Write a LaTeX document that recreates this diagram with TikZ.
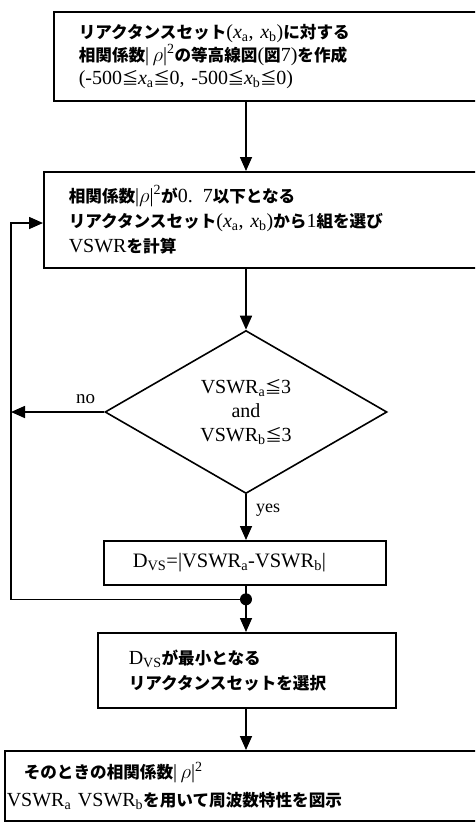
\documentclass[tikz,border=0pt]{standalone}
\usepackage{fontspec}
\usepackage{graphicx}
\setmainfont{Liberation Serif}
\newfontfamily\jpfont{Noto Sans CJK JP}[Scale=0.83]
\usetikzlibrary{arrows.meta, shapes.geometric, calc, positioning}
\newcommand{\ja}[1]{{\jpfont\bfseries #1}}
\newcommand{\lo}[1]{\textsubscript{#1}}
\newcommand{\leqj}{\makebox[0.8em]{\jpfont ≦}}
\newcommand{\fs}[2]{\fontsize{#1}{#2}\selectfont}

\begin{document}
\begin{tikzpicture}[x=1pt, y=-1pt,
		box/.style={draw, line width=1.6pt, shape=rectangle, anchor=north west, align=left, inner ysep=0pt},
		flow/.style={line width=1.6pt, -{Triangle[length=14pt, width=12pt]}},
		cond/.style={draw, line width=1.6pt, shape=diamond, minimum width=282pt, minimum height=163pt, align=center, inner sep=0pt}]
			\useasboundingbox (0,0) rectangle (475,823);
			\clip (0,0) rectangle (475,823);
			
			\node[box, font=\fs{20}{23}, inner xsep=25pt, text width=390pt, minimum height=89pt] (Zone) at (53,11) {\ja{リアクタンスセット}(\textit{x}\lo{a}, \textit{x}\lo{b})\ja{に対する}\\ \ja{相関係数}|\,$\rho$|\textsuperscript{2}\ja{の等高線図}(\ja{図}7)\ja{を作成}\\ (-500\leqj\textit{x}\lo{a}\leqj0, -500\leqj\textit{x}\lo{b}\leqj0)};
			
			\node[box, font=\fs{20}{25}, inner xsep=25pt, text width=400pt, minimum height=96pt] (Sel) at (43,171) {\ja{相関係数}|$\rho$|\textsuperscript{2}\ja{が}0. 7\ja{以下となる}\\ \ja{リアクタンスセット}(\textit{x}\lo{a}, \textit{x}\lo{b})\ja{から}1\ja{組を選び}\\ VSWR\ja{を計算}};
			
			\node[cond, font=\fs{20}{24}] (Chk) at (246,412) {VSWR\lo{a}\leqj3\\ and\\ VSWR\lo{b}\leqj3};
			
			\node[box, font=\fs{20.5}{22}, inner xsep=29pt, text width=224pt, minimum height=44pt] (Dvs) at (103,540) {D\lo{VS}=|VSWR\lo{a}-VSWR\lo{b}|};
			
			\node[box, font=\fs{20}{25}, inner xsep=31pt, text width=236pt, minimum height=75pt] (Min) at (97,632) {D\lo{VS}\ja{が最小となる}\\ \ja{リアクタンスセットを選択}};
			
			\node[box, font=\fs{20}{28}, inner xsep=2pt, text width=486pt, minimum height=70pt] (Plot) at (4,750) {\hspace*{17pt}\ja{そのときの相関係数}|\,$\rho$|\textsuperscript{2}\\ VSWR\lo{a} VSWR\lo{b}\ja{を用いて周波数特性を図示}};
			
			\coordinate (Join) at ($(Chk.south)+(0,105)$);
			\coordinate (In) at (11,223);
			
			\draw[flow] (Chk.north |- Zone.south) -- (Chk.north |- Sel.north);
			\draw[flow] (Chk.north |- Sel.south) -- (Chk.north);
			\draw[flow] (Chk.south) -- (Chk.south |- Dvs.north) node[pos=0.35, right=6pt, font=\fs{18}{18}] {yes};
			\draw[flow] (Chk.west) -- (Chk.west -| In) node[pos=0.2, above=4pt, font=\fs{19}{19}] {no};
			\draw[line width=1.6pt] (Chk.south |- Dvs.south) -- (Join);
			\draw[flow] (Join) -- (Join |- Min.north);
			\draw[flow] (Join) -- (Join -| In) -- (In) -- (In -| Sel.west);
			\fill (Join) circle (6pt);
			\draw[flow] (Join |- Min.south) -- (Join |- Plot.north);
			
\end{tikzpicture}
\end{document}
